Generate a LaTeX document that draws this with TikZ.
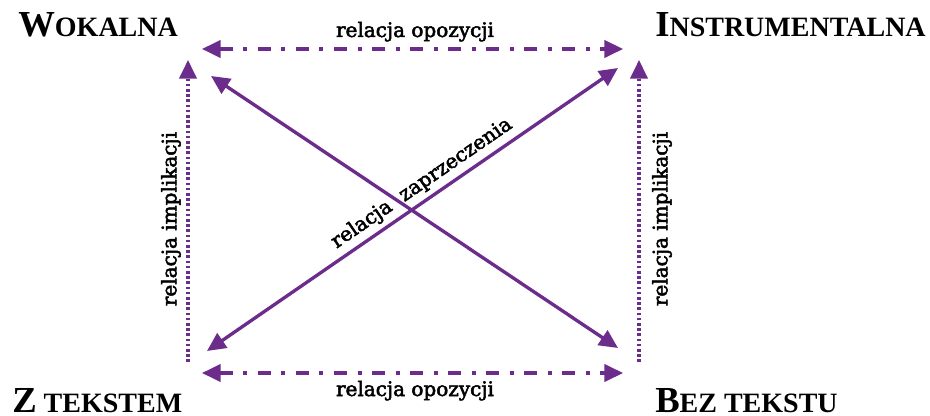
\documentclass[tikz,border=0pt]{standalone}
\usepackage{fontspec}
\setmainfont{DejaVu Serif}[FakeBold=2.5]
\newfontfamily\headfont{Liberation Serif}
\usetikzlibrary{arrows.meta}
\definecolor{relpurple}{RGB}{108,44,140}
% bold heading with hand-made small capitals
\newcommand\capshead[2]{{\headfont\bfseries{\fontsize{27.5}{27.5}\selectfont #1}{\fontsize{21}{21}\selectfont #2}}}
\tikzset{
  rel/.style={draw=relpurple, line width=2.5pt},
  tip/.style={-{Triangle[length=14pt,width=13pt]}},
  bothtips/.style={{Triangle[length=14pt,width=13pt]}-{Triangle[length=14pt,width=13pt]}},
  opp/.style={rel, line width=2.6pt, dash pattern=on 9.75pt off 7.9pt on 3pt off 7.9pt},
  impl/.style={rel, line width=2.4pt, dash pattern=on 2pt off 1.9pt},
  head/.style={anchor=base west, inner sep=0pt},
  lbl/.style={font=\fontsize{15}{15}\selectfont, inner sep=0pt}
}
\begin{document}
\begin{tikzpicture}[x=0.75pt,y=-0.75pt]
\useasboundingbox (0,0) rectangle (930,416);

% corner headings
\node[head] (wok) at (18,37) {\capshead{W}{OKALNA}};
\node[head] (ins) at (655,37) {\capshead{I}{NSTRUMENTALNA}};
\node[head] (ztek) at (12,412) {\capshead{Z}{ TEKSTEM}};
\node[head] (bez) at (655,412) {\capshead{B}{EZ TEKSTU}};

% arrow end points
\coordinate (tl) at (202,49);
\coordinate (tr) at (623,49);
\coordinate (bl) at (202,373);
\coordinate (br) at (623,373);
\coordinate (lvtop) at (188,60);
\coordinate (lvbot) at (188,362);
\coordinate (rvtop) at (639,60);
\coordinate (rvbot) at (639,362);
\coordinate (d1a) at (211,76);
\coordinate (d1b) at (618,348);
\coordinate (d2a) at (207,351);
\coordinate (d2b) at (618,68);

% opposition (top and bottom)
\draw[opp, bothtips] (tl) -- (tr);
\draw[opp, bothtips] (bl) -- (br);
\node[lbl, anchor=base] (optop) at (415,37) {relacja opozycji};
\node[lbl, anchor=base] (opbot) at (415,396) {relacja opozycji};

% implication (left and right)
\draw[impl, tip] (lvbot) -- (lvtop);
\draw[impl, tip] (rvbot) -- (rvtop);
\node[lbl, rotate=90] (imleft) at (171,219) {relacja implikacji};
\node[lbl, rotate=90] (imright) at (662,219) {relacja implikacji};

% contradiction (diagonals)
\draw[rel, bothtips] (d1a) -- (d1b);
\draw[rel, bothtips] (d2a) -- (d2b)
  node[lbl, pos=0.545, sloped, above=3.5pt] (contra) {relacja\hspace{10pt}zaprzeczenia};
\end{tikzpicture}
\end{document}
